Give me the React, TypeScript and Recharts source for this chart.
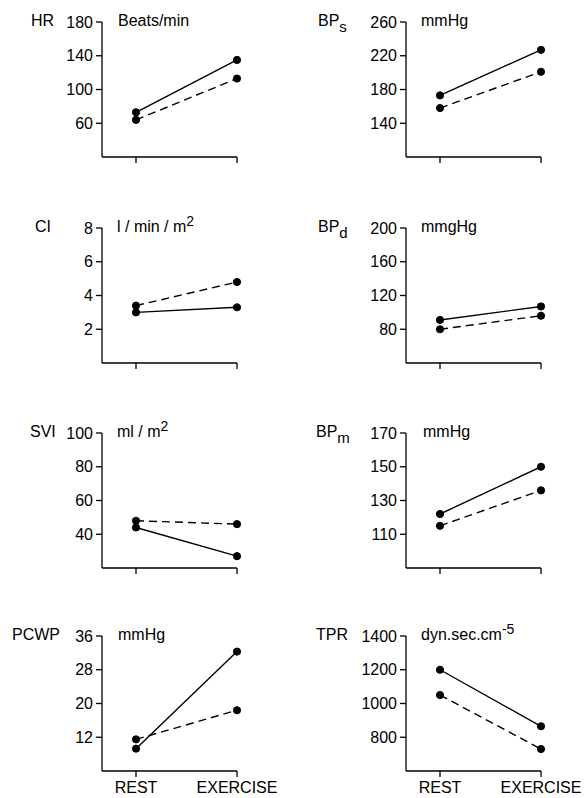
import React from 'react'
import { LineChart, Line, XAxis, YAxis } from 'recharts'

// x categories
const phases = ['REST', 'EXERCISE']

// solid line = group A, dashed line = group B
const hrA = [73, 135]
const hrB = [64, 113]
const bpsA = [173, 227]
const bpsB = [158, 201]
const ciA = [3.0, 3.3]
const ciB = [3.4, 4.8]
const bpdA = [91, 107]
const bpdB = [80, 96]
const sviA = [44, 27]
const sviB = [48, 46]
const bpmA = [122, 150]
const bpmB = [115, 136]
const pcwpA = [9.3, 32.3]
const pcwpB = [11.5, 18.4]
const tprA = [1200, 865]
const tprB = [1050, 730]

// y ticks
const hrTicks = [60, 100, 140, 180]
const bpsTicks = [140, 180, 220, 260]
const ciTicks = [2, 4, 6, 8]
const bpdTicks = [80, 120, 160, 200]
const sviTicks = [40, 60, 80, 100]
const bpmTicks = [110, 130, 150, 170]
const pcwpTicks = [12, 20, 28, 36]
const tprTicks = [800, 1000, 1200, 1400]

const FONT = '"Liberation Sans", Arial, sans-serif'
const PLOT_W = 135
const PLOT_H = 135
const ROW_TOP = [22, 228, 433, 636]
const COL_LEFT = [0, 290]
const AXIS_W = [102, 116]

interface Panel {
  name: string
  sub?: string
  unit: string
  sup?: string
  nameX: number
  unitX: number
  domain: [number, number]
  ticks: number[]
  a: number[]
  b: number[]
  row: number
  col: number
}

const panels: Panel[] = [
  { name: 'HR', unit: 'Beats/min', nameX: 31, unitX: 118, domain: [20, 180], ticks: hrTicks, a: hrA, b: hrB, row: 0, col: 0 },
  { name: 'BP', sub: 's', unit: 'mmHg', nameX: 318, unitX: 421, domain: [100, 260], ticks: bpsTicks, a: bpsA, b: bpsB, row: 0, col: 1 },
  { name: 'CI', unit: 'l / min / m', sup: '2', nameX: 35, unitX: 117, domain: [0, 8], ticks: ciTicks, a: ciA, b: ciB, row: 1, col: 0 },
  { name: 'BP', sub: 'd', unit: 'mmgHg', nameX: 318, unitX: 421, domain: [40, 200], ticks: bpdTicks, a: bpdA, b: bpdB, row: 1, col: 1 },
  { name: 'SVI', unit: 'ml / m', sup: '2', nameX: 30, unitX: 117, domain: [20, 100], ticks: sviTicks, a: sviA, b: sviB, row: 2, col: 0 },
  { name: 'BP', sub: 'm', unit: 'mmHg', nameX: 316, unitX: 423, domain: [90, 170], ticks: bpmTicks, a: bpmA, b: bpmB, row: 2, col: 1 },
  { name: 'PCWP', unit: 'mmHg', nameX: 12, unitX: 118, domain: [4, 36], ticks: pcwpTicks, a: pcwpA, b: pcwpB, row: 3, col: 0 },
  { name: 'TPR', unit: 'dyn.sec.cm', sup: '-5', nameX: 316, unitX: 421, domain: [600, 1400], ticks: tprTicks, a: tprA, b: tprB, row: 3, col: 1 },
]

const XTick = ({ x, y, payload, show }: any) => {
  if (!show) return <g />
  return (
    <text x={x} y={y + 14} textAnchor="middle" fill="#000" fontSize={16} fontFamily={FONT}>
      {payload.value}
    </text>
  )
}

function PanelChart({ p }: { p: Panel }) {
  const data = phases.map((phase, i) => ({ phase, a: p.a[i], b: p.b[i] }))
  const top = ROW_TOP[p.row]
  const axisW = AXIS_W[p.col]
  const mTop = 14
  const mRight = 44
  const width = axisW + PLOT_W + mRight
  const height = mTop + PLOT_H + 30
  const showX = p.row === 3

  return (
    <>
      <div
        style={{
          position: 'absolute',
          left: p.nameX,
          top: top - 11,
          fontSize: 16,
          lineHeight: '20px',
          whiteSpace: 'nowrap',
        }}
      >
        {p.name}
        {p.sub && <span style={{ fontSize: 15, position: 'relative', top: 6 }}>{p.sub}</span>}
      </div>
      <div
        style={{
          position: 'absolute',
          left: p.unitX,
          top: top - 11,
          fontSize: 16,
          lineHeight: '20px',
          whiteSpace: 'nowrap',
        }}
      >
        {p.unit}
        {p.sup && <span style={{ fontSize: 14, position: 'relative', top: -6 }}>{p.sup}</span>}
      </div>
      <div style={{ position: 'absolute', left: COL_LEFT[p.col], top: top - mTop }}>
        <LineChart width={width} height={height} data={data} margin={{ top: mTop, right: mRight, bottom: 0, left: 0 }}>
          <XAxis
            dataKey="phase"
            type="category"
            padding={{ left: 34, right: 0 }}
            interval={0}
            height={30}
            stroke="#000"
            strokeWidth={1.3}
            tickSize={6}
            tick={<XTick show={showX} />}
          />
          <YAxis
            type="number"
            domain={p.domain}
            ticks={p.ticks}
            interval={0}
            allowDataOverflow
            width={axisW}
            stroke="#000"
            strokeWidth={1.3}
            tickSize={6}
            tickMargin={3}
            tick={{ fill: '#000', fontSize: 16, fontFamily: FONT }}
          />
          <Line
            dataKey="a"
            stroke="#000"
            strokeWidth={1.4}
            dot={{ r: 3.6, fill: '#000', stroke: '#000', strokeWidth: 1 }}
            isAnimationActive={false}
          />
          <Line
            dataKey="b"
            stroke="#000"
            strokeWidth={1.4}
            strokeDasharray="8 5"
            dot={{ r: 3.6, fill: '#000', stroke: '#000', strokeWidth: 1, strokeDasharray: '0' }}
            isAnimationActive={false}
          />
        </LineChart>
      </div>
    </>
  )
}

export default function App() {
  return (
    <div
      style={{
        position: 'absolute',
        left: 0,
        top: 0,
        width: 584,
        height: 798,
        overflow: 'hidden',
        background: '#fff',
        fontFamily: FONT,
        color: '#000',
      }}
    >
      {panels.map((p, i) => (
        <PanelChart key={i} p={p} />
      ))}
    </div>
  )
}
